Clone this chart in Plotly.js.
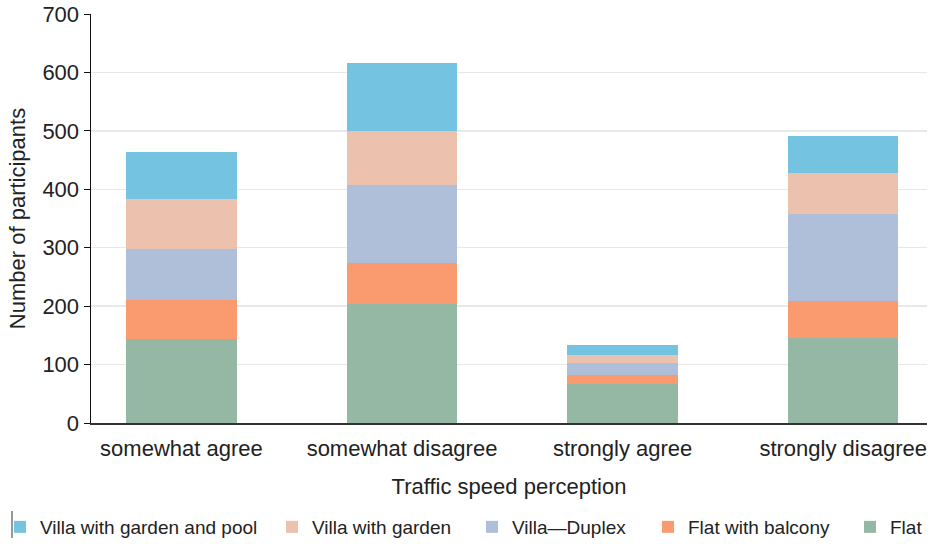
<!DOCTYPE html>
<html>
<head>
<meta charset="utf-8">
<script src="https://cdn.plot.ly/plotly-3.0.1.min.js"></script>
<style>html,body{margin:0;padding:0;background:#fff;}#chart{width:935px;height:544px;}</style>
</head>
<body>
<div id="chart"></div>
<script>
var categories = ["somewhat agree", "somewhat disagree", "strongly agree", "strongly disagree"];
var flat = [143, 203, 67, 146];
var flatWithBalcony = [67, 71, 15, 62];
var villaDuplex = [87, 134, 20, 149];
var villaWithGarden = [87, 91, 14, 71];
var villaWithGardenAndPool = [79, 118, 17, 63];
var seriesNames = ["Flat", "Flat with balcony", "Villa\u2014Duplex", "Villa with garden", "Villa with garden and pool"];
var seriesColors = ["#94b8a3", "#f99b6e", "#b0bfd9", "#ecc1ae", "#74c3e1"];
var yTicks = [0, 100, 200, 300, 400, 500, 600, 700];

// legend entry left positions (pixels), one legend box per series
var legendLeftPx = [850, 648, 472, 272, -3];

var seriesValues = [flat, flatWithBalcony, villaDuplex, villaWithGarden, villaWithGardenAndPool];
var font = "Liberation Sans, Arial, sans-serif";
var W = 935, H = 544;

var traces = seriesValues.map(function (vals, i) {
  return {
    type: "bar",
    name: seriesNames[i],
    x: categories,
    y: vals,
    legend: i === 0 ? "legend" : "legend" + (i + 1),
    marker: { color: seriesColors[i], line: { width: 0 } },
    hoverinfo: "x+y+name"
  };
});

var layout = {
  width: W,
  height: H,
  barmode: "stack",
  bargap: 0.5,
  margin: { l: 91, r: 8, t: 14, b: 121 },
  paper_bgcolor: "#ffffff",
  plot_bgcolor: "#ffffff",
  font: { family: font, color: "#222222", size: 20 },
  showlegend: true,
  xaxis: {
    type: "category",
    range: [-0.41, 3.38],
    showgrid: false,
    showline: true,
    linecolor: "#333333",
    linewidth: 2,
    ticks: "outside",
    ticklen: 5,
    tickcolor: "rgba(0,0,0,0)",
    tickfont: { family: font, size: 22, color: "#222222" },
    title: { text: "Traffic speed perception", font: { family: font, size: 22, color: "#222222" }, standoff: 18 },
    automargin: true,
    fixedrange: true
  },
  yaxis: {
    range: [0, 700],
    tickvals: yTicks,
    showgrid: true,
    gridcolor: "#e8e8e8",
    gridwidth: 1.5,
    zeroline: false,
    showline: true,
    linecolor: "#111111",
    linewidth: 1.5,
    ticks: "outside",
    ticklen: 6,
    tickcolor: "#111111",
    tickfont: { family: font, size: 22, color: "#222222" },
    title: { text: "Number of participants", font: { family: font, size: 22, color: "#222222" }, standoff: 10 },
    fixedrange: true
  },
  shapes: [{
    type: "line",
    xref: "paper", yref: "paper",
    x0: (12 - 91) / 836, x1: (12 - 91) / 836,
    y0: (423 - 511) / 409, y1: (423 - 538) / 409,
    line: { color: "#333333", width: 1 }
  }]
};

legendLeftPx.forEach(function (px, i) {
  var key = i === 0 ? "legend" : "legend" + (i + 1);
  layout[key] = {
    orientation: "h",
    xref: "container",
    yref: "container",
    x: px / W,
    xanchor: "left",
    y: 1 - 527 / H,
    yanchor: "middle",
    bgcolor: "rgba(0,0,0,0)",
    font: { family: font, size: 19, color: "#222222" }
  };
});

Plotly.newPlot("chart", traces, layout, { displayModeBar: false, staticPlot: true });
</script>
</body>
</html>
